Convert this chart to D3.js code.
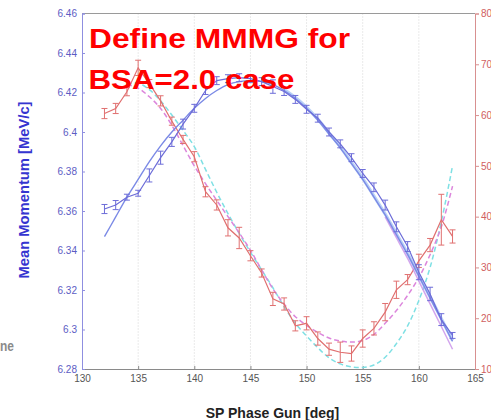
<!DOCTYPE html>
<html>
<head>
<meta charset="utf-8">
<script src="https://cdn.jsdelivr.net/npm/d3@7/dist/d3.min.js"></script>
<style>
  html, body { margin: 0; padding: 0; background: #fff; }
  svg { display: block; }
  text { font-family: "Liberation Sans", Arial, sans-serif; }
</style>
</head>
<body>
<svg id="chart" width="491" height="420"></svg>
<script>
// ---------- data ----------
const phase = [132,133,134,135,136,137,138,139,140,141,142,143,144,145,146,147,
               148,149,150,151,152,153,154,155,156,157,158,159,160,161,162,163];
const momentum = [6.361,6.363,6.367,6.369,6.378,6.387,6.395,6.404,6.412,6.421,6.426,6.427,
                  6.4275,6.427,6.4255,6.423,6.4205,6.4165,6.4115,6.407,6.400,6.394,6.387,6.379,
                  6.372,6.363,6.352,6.342,6.329,6.318,6.305,6.297];
const momentumErr = [0.0023,0.0023,0.0015,0.0015,0.0033,0.0033,0.0023,0.0025,0.002,0.002,0.002,0.002,
                     0.002,0.002,0.002,0.0034,0.002,0.002,0.002,0.002,0.002,0.002,0.002,0.002,
                     0.0022,0.0025,0.0025,0.0025,0.0038,0.0034,0.003,0.0015];
const momentumFit = [6.347,6.357,6.367,6.376,6.385,6.393,6.400,6.406,6.412,6.417,6.421,6.424,
                     6.4255,6.426,6.4255,6.424,6.421,6.417,6.412,6.406,6.399,6.392,6.384,6.376,
                     6.367,6.358,6.348,6.338,6.327,6.316,6.305,6.294];
const fitBPhase = [148,149,150,151,152,153,154,155,156,157,158,159,160,161,162,163];
const momentumFitB = [6.4215,6.4175,6.4125,6.4065,6.3995,6.3925,6.3845,6.3765,6.3675,6.3585,
                      6.3485,6.3385,6.3275,6.3165,6.3055,6.2945];
const fitCPhase = [157,158,159,160,161,162,163];
const momentumFitC = [6.357,6.3465,6.336,6.3245,6.313,6.3015,6.290];

const spread = [60.3,61.3,64.6,69.3,66.2,62.8,58.8,55.2,51.8,44.9,42.3,37.8,35.8,32.3,28.9,23.8,
                22.8,18.5,19.0,16.0,13.9,13.3,13.05,16.0,18.0,21.2,25.6,27.6,31.3,34.4,39.4,36.1];
const spreadErr = [1.0,1.0,0.8,1.5,0.8,1.0,0.8,0.8,1.0,1.0,1.0,1.6,2.1,1.0,0.8,1.3,
                   1.2,1.0,1.3,1.3,1.2,2.0,1.5,1.7,1.3,1.7,1.7,1.0,1.3,1.3,5.0,1.3];
const dashPhase = [134,135,136,137,138,139,140,141,142,143,144,145,146,147,148,149,150,
                   151,152,153,154,155,156,157,158,159,160,161,162,163];
const cyanFit = [66.0,66.3,65.0,62.8,60.0,57.0,53.8,49.3,44.8,40.6,36.7,33.0,29.5,26.0,22.3,19.0,16.5,
                 14.2,12.2,11.0,10.4,10.3,10.8,12.3,15.0,18.5,23.5,30.0,39.0,50.0];
const magentaFit = [66.0,65.3,63.6,61.3,58.0,54.0,50.0,46.5,43.2,40.0,36.8,33.4,29.5,25.8,22.8,20.3,18.6,
                    17.2,16.1,15.5,15.3,15.6,16.8,19.0,21.5,24.5,28.0,32.5,38.0,46.0];

const xTicks = [130,135,140,145,150,155,160,165];
const gridTicks = [135,140,145,150,155,160];
const leftTicks = [6.28,6.30,6.32,6.34,6.36,6.38,6.40,6.42,6.44,6.46];
const leftTickLabels = ["6.28","6.3","6.32","6.34","6.36","6.38","6.4","6.42","6.44","6.46"];
const rightTicks = [10,20,30,40,50,60,70,80];

// ---------- layout ----------
const L = 82, R = 475, T = 13.5, B = 369;
const svg = d3.select("#chart");
const x = d3.scaleLinear().domain([130,165]).range([L,R]);
const yL = d3.scaleLinear().domain([6.28,6.46]).range([B,T]);
const yR = d3.scaleLinear().domain([10,80]).range([B,T]);

const cBlue = "#6c6cd8", cBlueFit = "#7b8ae6", cRed = "#e07070";
const cCyan = "#7fe0e4", cMag = "#dc86dc";

// gridlines
svg.append("g").selectAll("line").data(gridTicks).join("line")
  .attr("x1", d => x(d)).attr("x2", d => x(d)).attr("y1", T).attr("y2", B)
  .attr("stroke", "#d4d4d4").attr("stroke-width", 1).attr("stroke-dasharray", "1,2");

// frame: top
svg.append("line").attr("x1", L).attr("x2", R).attr("y1", T).attr("y2", T)
  .attr("stroke", "#9a9a9a").attr("stroke-width", 1);

// bottom axis
const gx = svg.append("g").attr("transform", `translate(0,${B})`)
  .call(d3.axisBottom(x).tickValues(xTicks).tickSize(-3).tickPadding(6).tickFormat(d3.format("d")));
gx.select(".domain").attr("stroke", "#8a8a8a");
gx.selectAll(".tick line").attr("stroke", "#8a8a8a");
gx.selectAll("text").attr("fill", "#555").attr("font-size", 10).attr("font-family", "Liberation Sans, Arial, sans-serif");

// left axis
const gl = svg.append("g").attr("transform", `translate(${L},0)`)
  .call(d3.axisLeft(yL).tickValues(leftTicks).tickSize(-3).tickPadding(5)
        .tickFormat((d,i) => leftTickLabels[i]));
gl.select(".domain").attr("stroke", "#8f8fe0");
gl.selectAll(".tick line").attr("stroke", "#8f8fe0");
gl.selectAll("text").attr("fill", "#5c5cc4").attr("font-size", 10).attr("font-family", "Liberation Sans, Arial, sans-serif");

// right axis
const gr = svg.append("g").attr("transform", `translate(${R},0)`)
  .call(d3.axisRight(yR).tickValues(rightTicks).tickSize(4).tickPadding(2).tickFormat(d3.format("d")));
gr.select(".domain").attr("stroke", "#d89090");
gr.selectAll(".tick line").attr("stroke", "#d89090");
gr.selectAll("text").attr("fill", "#d06060").attr("font-size", 10).attr("font-family", "Liberation Sans, Arial, sans-serif");

const plot = svg.append("g");

// red dashed fits
const lineR = (xs, ys) => d3.line().x((d,i) => x(xs[i])).y(d => yR(d)).curve(d3.curveCatmullRom)(ys);
plot.append("path").attr("d", lineR(dashPhase, cyanFit)).attr("fill", "none")
  .attr("stroke", cCyan).attr("stroke-width", 1.5).attr("stroke-dasharray", "5,3");
plot.append("path").attr("d", lineR(dashPhase, magentaFit)).attr("fill", "none")
  .attr("stroke", cMag).attr("stroke-width", 1.5).attr("stroke-dasharray", "5,3");

// red data with error bars
plot.append("path").attr("d", d3.line().x((d,i) => x(phase[i])).y(d => yR(d))(spread))
  .attr("fill", "none").attr("stroke", cRed).attr("stroke-width", 1.2);
const eR = plot.append("g").attr("stroke", cRed).attr("stroke-width", 1);
eR.selectAll(".v").data(spread).join("line")
  .attr("x1", (d,i) => x(phase[i])).attr("x2", (d,i) => x(phase[i]))
  .attr("y1", (d,i) => yR(d - spreadErr[i])).attr("y2", (d,i) => yR(d + spreadErr[i]));
eR.selectAll(".t").data(spread).join("line")
  .attr("x1", (d,i) => x(phase[i]) - 3).attr("x2", (d,i) => x(phase[i]) + 3)
  .attr("y1", (d,i) => yR(d + spreadErr[i])).attr("y2", (d,i) => yR(d + spreadErr[i]));
eR.selectAll(".b").data(spread).join("line")
  .attr("x1", (d,i) => x(phase[i]) - 3).attr("x2", (d,i) => x(phase[i]) + 3)
  .attr("y1", (d,i) => yR(d - spreadErr[i])).attr("y2", (d,i) => yR(d - spreadErr[i]));

// blue fits
const lineL = (xs, ys) => d3.line().x((d,i) => x(xs[i])).y(d => yL(d)).curve(d3.curveCatmullRom)(ys);
plot.append("path").attr("d", lineL(fitBPhase, momentumFitB)).attr("fill", "none")
  .attr("stroke", "#a6c4f4").attr("stroke-width", 3.2).attr("opacity", 0.8);
plot.append("path").attr("d", lineL(fitCPhase, momentumFitC)).attr("fill", "none")
  .attr("stroke", "#c890e8").attr("stroke-width", 1.5).attr("opacity", 0.8);
plot.append("path").attr("d", lineL(phase, momentumFit)).attr("fill", "none")
  .attr("stroke", cBlueFit).attr("stroke-width", 1.4);

// blue data with error bars
plot.append("path").attr("d", d3.line().x((d,i) => x(phase[i])).y(d => yL(d))(momentum))
  .attr("fill", "none").attr("stroke", cBlue).attr("stroke-width", 1.2);
const eL = plot.append("g").attr("stroke", cBlue).attr("stroke-width", 1);
eL.selectAll(".v").data(momentum).join("line")
  .attr("x1", (d,i) => x(phase[i])).attr("x2", (d,i) => x(phase[i]))
  .attr("y1", (d,i) => yL(d - momentumErr[i])).attr("y2", (d,i) => yL(d + momentumErr[i]));
eL.selectAll(".t").data(momentum).join("line")
  .attr("x1", (d,i) => x(phase[i]) - 3).attr("x2", (d,i) => x(phase[i]) + 3)
  .attr("y1", (d,i) => yL(d + momentumErr[i])).attr("y2", (d,i) => yL(d + momentumErr[i]));
eL.selectAll(".b").data(momentum).join("line")
  .attr("x1", (d,i) => x(phase[i]) - 3).attr("x2", (d,i) => x(phase[i]) + 3)
  .attr("y1", (d,i) => yL(d - momentumErr[i])).attr("y2", (d,i) => yL(d - momentumErr[i]));

// axis titles
svg.append("text").attr("transform", "translate(29,190) rotate(-90)")
  .attr("text-anchor", "middle").attr("font-size", 15).attr("font-weight", "bold")
  .attr("fill", "#3535d0").attr("textLength", 177).attr("lengthAdjust", "spacingAndGlyphs")
  .text("Mean Momentum [MeV/c]");
svg.append("text").attr("x", 272.5).attr("y", 418).attr("text-anchor", "middle")
  .attr("font-size", 14).attr("font-weight", "bold").attr("fill", "#222")
  .text("SP Phase Gun [deg]");

// overlay annotation
svg.append("text").attr("x", 89).attr("y", 47.5).attr("font-size", 27.5).attr("font-weight", "bold")
  .attr("fill", "#ff0000").attr("textLength", 261).attr("lengthAdjust", "spacingAndGlyphs")
  .text("Define MMMG for");
svg.append("text").attr("x", 88.5).attr("y", 88.5).attr("font-size", 27.5).attr("font-weight", "bold")
  .attr("fill", "#ff0000").attr("textLength", 206).attr("lengthAdjust", "spacingAndGlyphs")
  .text("BSA=2.0 case");

// slide text fragment at the left edge
svg.append("text").attr("x", 0).attr("y", 351).attr("font-size", 15).attr("font-weight", "bold")
  .attr("font-family", "Open Sans, sans-serif").attr("fill", "#8a8a8a")
  .attr("textLength", 14).attr("lengthAdjust", "spacingAndGlyphs").text("ne");
</script>
</body>
</html>
